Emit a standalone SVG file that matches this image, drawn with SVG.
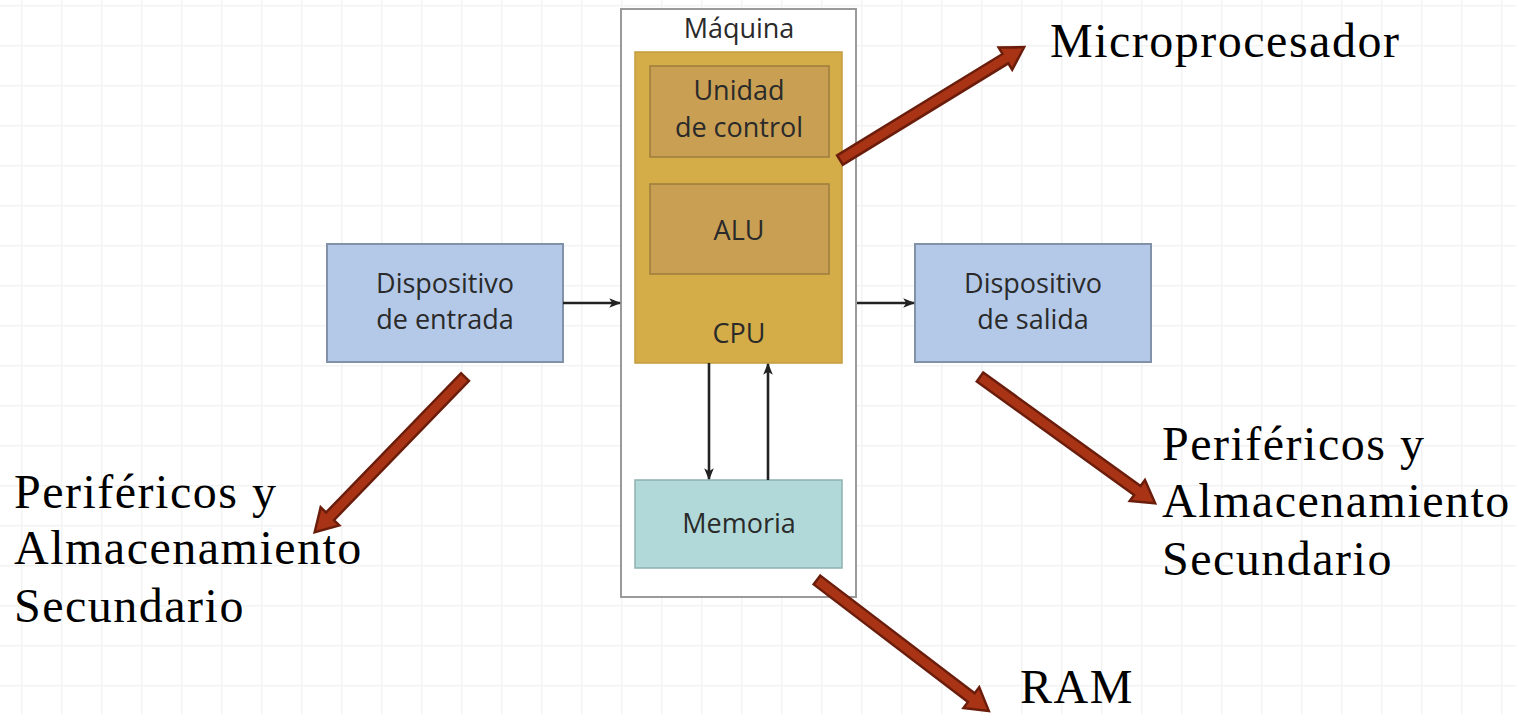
<svg xmlns="http://www.w3.org/2000/svg" width="1516" height="714" viewBox="0 0 1516 714">
<defs>
<pattern id="grid" x="21" y="5" width="40" height="40" patternUnits="userSpaceOnUse">
<path d="M0,0 H40 M0,0 V40" fill="none" stroke="#f3f3f3" stroke-width="3"/>
</pattern>
<marker id="ah" viewBox="0 0 10 10" refX="9" refY="5" markerWidth="12" markerHeight="12" markerUnits="userSpaceOnUse" orient="auto">
<path d="M0,1 L10,5 L0,9 L2.5,5 Z" fill="#222"/>
</marker>
<path id="big" d="M0,-5.5 L194,-5.5 L194,-13 L216,0 L194,13 L194,5.5 L0,5.5 Z"/>
</defs>
<style>
.lbl{font-family:"Open Sans","Noto Sans",sans-serif;font-size:27px;fill:#2a2a2a;text-anchor:middle}
.note{font-family:"Liberation Serif",serif;font-size:48px;fill:#000;letter-spacing:1.5px}
.conn{stroke:#222;stroke-width:2.6;fill:none;marker-end:url(#ah)}
.red{fill:#a93415;stroke:#6b1d0c;stroke-width:2.5;stroke-linejoin:miter}
</style>
<rect width="1516" height="714" fill="#fff"/>
<rect width="1516" height="714" fill="url(#grid)"/>

<g id="maquina">
<rect x="621" y="9" width="235" height="588" fill="#fff" stroke="#9a9a9a" stroke-width="2"/>
<text class="lbl" x="739" y="38">Máquina</text>
</g>
<g id="cpu">
<rect x="635" y="52" width="207" height="311" fill="#d5ad48" stroke="#c49c3c" stroke-width="1.5"/>
<text class="lbl" x="739" y="343">CPU</text>
</g>
<g id="unidad-control">
<rect x="650" y="66" width="179" height="91" fill="#c99f54" stroke="#9d7c3e" stroke-width="1.5"/>
<text class="lbl" x="739" y="100">Unidad</text>
<text class="lbl" x="739" y="137">de control</text>
</g>
<g id="alu">
<rect x="650" y="184" width="179" height="90" fill="#c99f54" stroke="#9d7c3e" stroke-width="1.5"/>
<text class="lbl" x="739" y="240">ALU</text>
</g>
<g id="memoria">
<rect x="635" y="480" width="207" height="88" fill="#b1d9d9" stroke="#8fb0b0" stroke-width="1.5"/>
<text class="lbl" x="739" y="533">Memoria</text>
</g>
<g id="entrada">
<rect x="327" y="244" width="236" height="118" fill="#b3c9e7" stroke="#8192a8" stroke-width="2"/>
<text class="lbl" x="445" y="293">Dispositivo</text>
<text class="lbl" x="445" y="329">de entrada</text>
</g>
<g id="salida">
<rect x="915" y="244" width="236" height="118" fill="#b3c9e7" stroke="#8192a8" stroke-width="2"/>
<text class="lbl" x="1033" y="293">Dispositivo</text>
<text class="lbl" x="1033" y="329">de salida</text>
</g>

<g id="connectors">
<line class="conn" x1="563" y1="303" x2="620" y2="303"/>
<line class="conn" x1="857" y1="303" x2="914" y2="303"/>
<line class="conn" x1="709" y1="363" x2="709" y2="479"/>
<line class="conn" x1="768" y1="480" x2="768" y2="364"/>
<use href="#big" class="red" transform="translate(840,160) rotate(-31.5)"/>
<use href="#big" class="red" transform="translate(817,580) rotate(37.3)"/>
<use href="#big" class="red" transform="translate(465,377) rotate(134.1)"/>
<use href="#big" class="red" transform="translate(980,377) rotate(35.8)"/>
</g>

<g id="notes">
<text class="note" x="1050" y="57">Microprocesador</text>
<text class="note" x="14" y="508">Periféricos y</text>
<text class="note" x="14" y="564">Almacenamiento</text>
<text class="note" x="14" y="622">Secundario</text>
<text class="note" x="1162" y="460">Periféricos y</text>
<text class="note" x="1162" y="517">Almacenamiento</text>
<text class="note" x="1162" y="575">Secundario</text>
<text class="note" x="1020" y="703">RAM</text>
</g>
</svg>
